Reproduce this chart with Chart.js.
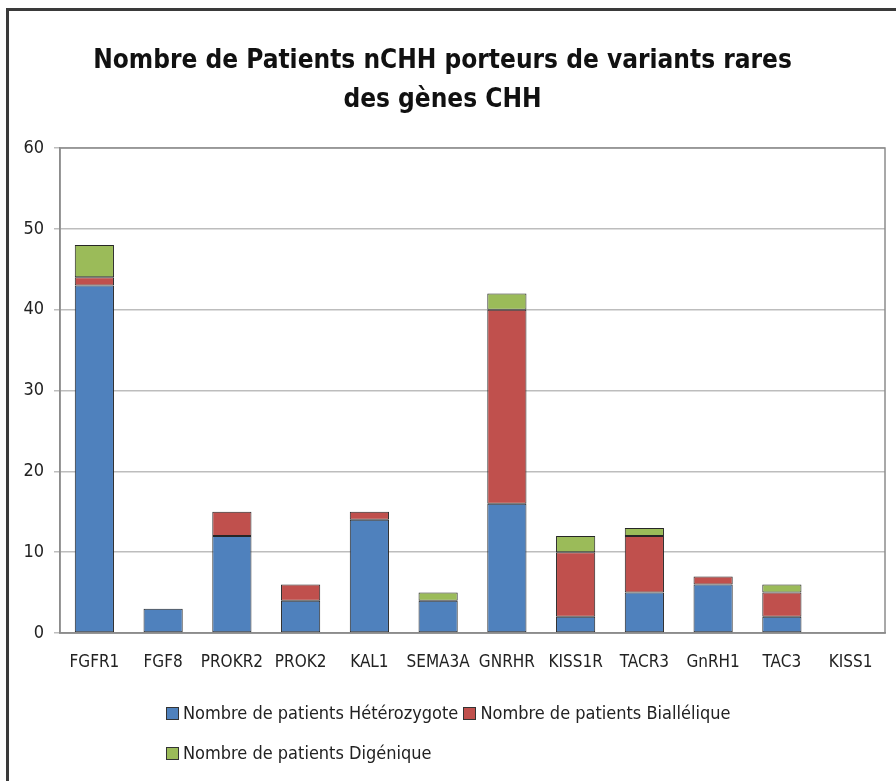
<!DOCTYPE html>
<html>
<head>
<meta charset="utf-8">
<script src="https://cdn.jsdelivr.net/npm/chart.js@4/dist/chart.umd.min.js"></script>
<style>
  html, body { margin: 0; padding: 0; background: #fff; }
  #wrap { position: relative; width: 896px; height: 781px; overflow: hidden; }
  #frame {
    position: absolute; left: 6px; top: 8px; width: 1000px; height: 1000px;
    border-left: 3px solid #3a3a3a; border-top: 3px solid #3a3a3a;
  }
  #acquisitions { position: absolute; left: 0; top: 0; }
  #legend {
    position: absolute; left: 166px; top: 702px; width: 640px;
    font-family: 'DejaVu Sans Condensed', sans-serif;
    font-size: 18px; color: #222;
  }
  .item { display: inline-block; margin: 0 0 19px 0; white-space: nowrap; }
  .box {
    display: inline-block; width: 11px; height: 11px; margin-right: 4px;
    border: 1px solid #333; vertical-align: -1px;
  }
</style>
</head>
<body>
<div id="wrap">
  <div id="frame"></div>
  <canvas id="acquisitions" width="896" height="781"></canvas>
  <div id="legend"></div>
</div>
<script>
const genes = ['FGFR1', 'FGF8', 'PROKR2', 'PROK2', 'KAL1', 'SEMA3A', 'GNRHR', 'KISS1R', 'TACR3', 'GnRH1', 'TAC3', 'KISS1'];
const heterozygote = [43, 3, 12, 4, 14, 4, 16, 2, 5, 6, 2, 0];
const biallelique  = [1, 0, 3, 2, 1, 0, 24, 8, 7, 1, 3, 0];
const digenique    = [4, 0, 0, 0, 0, 1, 2, 2, 1, 0, 1, 0];
const yTicks = [0, 10, 20, 30, 40, 50, 60];

const FONT = "'DejaVu Sans Condensed', sans-serif";

const data = {
    labels: genes,
    datasets: [
        { label: 'Nombre de patients Hétérozygote', data: heterozygote, backgroundColor: '#4F81BD' },
        { label: 'Nombre de patients Biallélique', data: biallelique, backgroundColor: '#C0504D' },
        { label: 'Nombre de patients Digénique', data: digenique, backgroundColor: '#9BBB59' }
    ]
};
data.datasets.forEach(ds => {
    ds.borderColor = '#262626';
    ds.borderWidth = 1;
    ds.borderSkipped = false;
    ds.categoryPercentage = 1;
    ds.barPercentage = 0.57;
});

// gray box around the plot area
const plotBox = {
    id: 'plotBox',
    afterDraw(chart) {
        const a = chart.chartArea, c = chart.ctx;
        c.save();
        c.strokeStyle = '#8c8c8c';
        c.lineWidth = 1.5;
        c.strokeRect(a.left, a.top, a.right - a.left, a.bottom - a.top);
        c.restore();
    }
};

const config = {
    type: 'bar',
    data: data,
    plugins: [plotBox],
    options: {
        responsive: false,
        animation: false,
        layout: { padding: { top: 42, left: 0, right: 11, bottom: 0 } },
        plugins: {
            legend: { display: false },
            tooltip: { enabled: false },
            title: {
                display: true,
                text: ['Nombre de Patients nCHH porteurs de variants rares', 'des gènes CHH'],
                color: '#111',
                font: { family: FONT, size: 26, weight: 'bold', lineHeight: 1.5 },
                padding: { top: 0, bottom: 28 }
            }
        },
        scales: {
            x: {
                stacked: true,
                grid: { display: false },
                border: { color: '#8c8c8c', width: 1.5 },
                ticks: { color: '#222', font: { family: FONT, size: 17 }, padding: 11, maxRotation: 0, autoSkip: false },
                afterFit(scale) { scale.height = 148; }
            },
            y: {
                stacked: true,
                min: 0,
                max: 60,
                afterBuildTicks(scale) { scale.ticks = yTicks.map(v => ({ value: v })); },
                grid: { color: '#bdbdbd', lineWidth: 1.5, drawTicks: true, tickLength: 6 },
                border: { color: '#8c8c8c', width: 1.5 },
                ticks: { color: '#222', font: { family: FONT, size: 18 }, padding: 10 },
                afterFit(scale) { scale.width = 60; }
            }
        }
    }
};

const chartCanvas = document.getElementById('acquisitions');
const ctx = chartCanvas.getContext('2d');
const chart = new Chart(ctx, config);

// legend under the chart, built from the datasets
const legend = document.getElementById('legend');
chart.data.datasets.forEach((ds, i) => {
    const item = document.createElement('span');
    item.className = 'item';
    const box = document.createElement('span');
    box.className = 'box';
    box.style.background = ds.backgroundColor;
    item.appendChild(box);
    item.appendChild(document.createTextNode(ds.label));
    legend.appendChild(item);
    if (i === 0) legend.appendChild(document.createTextNode(' '));
    if (i === 1) legend.appendChild(document.createElement('br'));
});
</script>
</body>
</html>
